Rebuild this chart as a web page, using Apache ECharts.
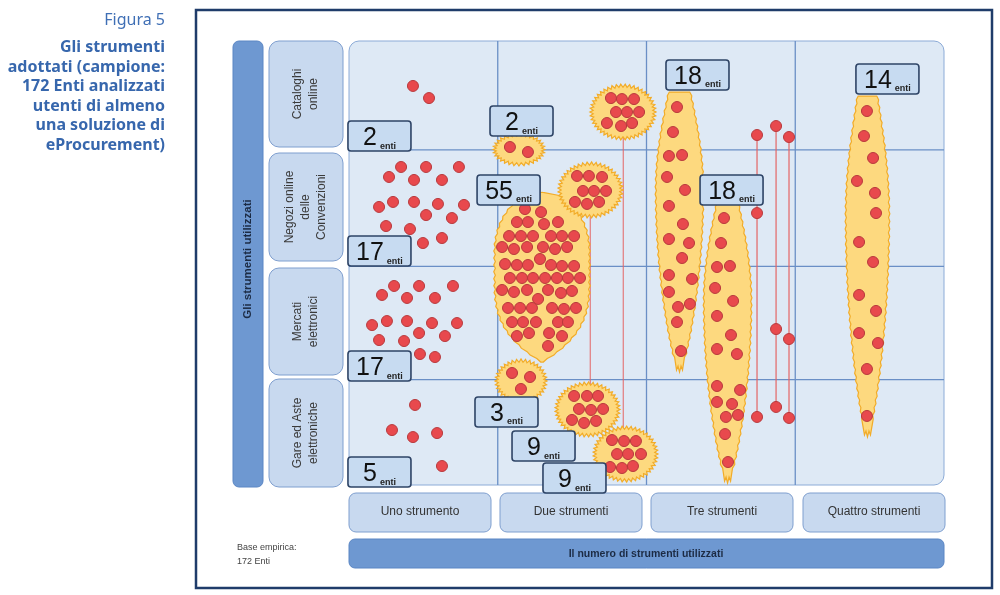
<!DOCTYPE html>
<html><head><meta charset="utf-8">
<script src="https://cdn.jsdelivr.net/npm/echarts@6/dist/echarts.min.js"></script>
<style>html,body{margin:0;padding:0;background:#fff}#c{width:1000px;height:595px}</style>
</head><body><div id="c"></div>
<script>
// ---------- categories & text ----------
const rowCategories = ['Cataloghi\nonline', 'Negozi online\ndelle\nConvenzioni', 'Mercati\nelettronici', 'Gare ed Aste\nelettroniche'];
const colCategories = ['Uno strumento', 'Due strumenti', 'Tre strumenti', 'Quattro strumenti'];
const yAxisTitle = 'Gli strumenti utilizzati';
const xAxisTitle = 'Il numero di strumenti utilizzati';
const figureNumber = 'Figura 5';
const figureTitle = 'Gli strumenti\nadottati (campione:\n172 Enti analizzati\nutenti di almeno\nuna soluzione di\neProcurement)';
const baseNote = 'Base empirica:\n172 Enti';

// ---------- cell boundaries (x: number of tools 0..4, y: tool rows 0..4) ----------
const colEdges = [1, 2, 3];
const rowEdges = [0.98, 2.03, 3.05];

// ---------- dots: one per Ente [x, y] ----------
const uno_cataloghi = [[0.430,0.405],[0.538,0.514]];
const uno_negozi = [[0.350,1.135],[0.518,1.135],[0.739,1.135],[0.269,1.225],[0.437,1.252],[0.625,1.252],[0.202,1.495],[0.296,1.450],[0.437,1.450],[0.598,1.468],[0.773,1.477],[0.518,1.568],[0.692,1.595],[0.249,1.667],[0.410,1.694],[0.497,1.820],[0.625,1.775]];
const uno_mercati = [[0.303,2.207],[0.471,2.207],[0.699,2.207],[0.222,2.288],[0.390,2.315],[0.578,2.315],[0.155,2.559],[0.255,2.523],[0.390,2.523],[0.558,2.541],[0.726,2.541],[0.471,2.631],[0.645,2.658],[0.202,2.694],[0.370,2.703],[0.477,2.820],[0.578,2.847]];
const uno_gare = [[0.444,3.279],[0.289,3.505],[0.430,3.568],[0.592,3.532],[0.625,3.829]];

const due_catNeg = [[1.082,0.955],[1.203,1.000]];
const due_catGare_top = [[1.761,0.514],[1.835,0.523],[1.916,0.523],[1.795,0.640],[1.869,0.640],[1.950,0.640],[1.734,0.739],[1.829,0.766],[1.903,0.739]];
const due_catGare_bottom = [[1.768,3.595],[1.849,3.604],[1.929,3.604],[1.802,3.721],[1.876,3.721],[1.963,3.721],[1.755,3.838],[1.835,3.847],[1.909,3.829]];
const due_negGare_top = [[1.533,1.216],[1.613,1.216],[1.701,1.225],[1.573,1.351],[1.647,1.351],[1.728,1.351],[1.519,1.450],[1.600,1.468],[1.681,1.450]];
const due_negGare_bottom = [[1.513,3.198],[1.600,3.198],[1.674,3.198],[1.546,3.315],[1.627,3.324],[1.708,3.315],[1.499,3.414],[1.580,3.441],[1.661,3.423]];
const due_mercGare = [[1.096,2.991],[1.217,3.027],[1.156,3.135]];
const due_negMerc = [
 [1.183,1.514],[1.291,1.541],
 [1.129,1.631],[1.203,1.631],[1.311,1.649],[1.405,1.631],
 [1.076,1.757],[1.156,1.757],[1.237,1.757],[1.358,1.757],[1.432,1.757],[1.513,1.757],
 [1.029,1.856],[1.109,1.874],[1.197,1.856],[1.304,1.856],[1.385,1.874],[1.466,1.856],
 [1.284,1.964],
 [1.049,2.009],[1.129,2.018],[1.203,2.018],[1.358,2.018],[1.432,2.027],[1.513,2.027],
 [1.082,2.135],[1.163,2.135],[1.237,2.135],[1.318,2.135],[1.398,2.135],[1.472,2.135],[1.553,2.135],
 [1.029,2.243],[1.109,2.261],[1.197,2.243],[1.338,2.243],[1.425,2.270],[1.499,2.252],
 [1.271,2.324],
 [1.069,2.405],[1.150,2.405],[1.230,2.405],[1.365,2.405],[1.445,2.414],[1.526,2.405],
 [1.096,2.532],[1.170,2.532],[1.257,2.532],[1.405,2.532],[1.472,2.532],
 [1.129,2.658],[1.210,2.631],[1.345,2.631],[1.432,2.658],
 [1.338,2.748]];

const tre_catNegMerc = [[2.205,0.595],[2.178,0.820],[2.151,1.036],[2.239,1.027],[2.138,1.225],[2.259,1.342],[2.151,1.486],[2.245,1.649],[2.151,1.784],[2.286,1.820],[2.239,1.955],[2.151,2.108],[2.306,2.144],[2.151,2.261],[2.212,2.396],[2.292,2.369],[2.205,2.532],[2.232,2.793]];
const tre_negMercGare = [[2.521,1.595],[2.501,1.820],[2.474,2.036],[2.561,2.027],[2.461,2.225],[2.582,2.342],[2.474,2.477],[2.568,2.649],[2.474,2.775],[2.608,2.820],[2.474,3.108],[2.629,3.144],[2.474,3.252],[2.575,3.270],[2.534,3.387],[2.615,3.369],[2.528,3.541],[2.548,3.793]];
const tre_catNegGare = [[2.743,0.847],[2.743,1.550],[2.743,3.387]];
const tre_catMercGare_a = [[2.871,0.766],[2.871,2.595],[2.871,3.297]];
const tre_catMercGare_b = [[2.958,0.865],[2.958,2.685],[2.958,3.396]];

const quattro_tutti = [[3.482,0.631],[3.462,0.856],[3.523,1.054],[3.415,1.261],[3.536,1.369],[3.543,1.550],[3.429,1.811],[3.523,1.991],[3.429,2.288],[3.543,2.432],[3.429,2.631],[3.556,2.721],[3.482,2.955],[3.482,3.378]];

// count labels [x, y (top-left anchor), number of Enti]
const countLabels = [
 [-0.007,0.721,2],[-0.007,1.757,17],[-0.007,2.793,17],[-0.007,3.748,5],
 [0.948,0.586,2],[0.861,1.207,55],[0.847,3.207,3],[1.096,3.514,9],[1.304,3.802,9],
 [2.131,0.171,18],[2.360,1.207,18],[3.408,0.207,14]];

// groupings
const allDots = [].concat(uno_cataloghi, uno_negozi, uno_mercati, uno_gare, due_catNeg, due_catGare_top, due_catGare_bottom, due_negGare_top, due_negGare_bottom, due_mercGare, due_negMerc, tre_catNegMerc, tre_negMercGare, tre_catNegGare, tre_catMercGare_a, tre_catMercGare_b, quattro_tutti);
const blobs = [
 [due_negMerc,'egg'], [due_catNeg,'sun'], [due_catGare_top,'sun'], [due_catGare_bottom,'sun'],
 [due_negGare_top,'sun'], [due_negGare_bottom,'sun'], [due_mercGare,'sun'],
 [tre_catNegMerc,'spindle'], [tre_negMercGare,'spindle'], [quattro_tutti,'spindle']];
const linkedPairs = [[due_catGare_top, due_catGare_bottom], [due_negGare_top, due_negGare_bottom]];
const chains = [tre_catNegGare, tre_catMercGare_a, tre_catMercGare_b];

// ---------- styles ----------
const FONT = "'Liberation Sans', Arial, sans-serif";
const TFONT = "'Noto Sans', 'Open Sans', sans-serif";
const YEL = '#fdd97f', YEL_E = '#f2ac28';
const RED = '#e8494d', RED_E = '#b8393c';
const LINE_BLUE = '#6a8fc6';
const G = {left: 349, top: 41, width: 595, height: 444};

function mean(arr, i) { return arr.reduce((s, p) => s + p[i], 0) / arr.length; }

function blobItem(params, api) {
  const b = blobs[params.dataIndex];
  const px = b[0].map(p => api.coord(p));
  const xs = px.map(p => p[0]), ys = px.map(p => p[1]);
  const x0 = Math.min(...xs), x1 = Math.max(...xs), y0 = Math.min(...ys), y1 = Math.max(...ys);
  const cx = (x0 + x1) / 2, cy = (y0 + y1) / 2;
  let poly = [];
  if (b[1] === 'sun') {
    const rx = (x1 - x0) / 2 + 17, ry = (y1 - y0) / 2 + 14;
    const n = Math.round(Math.PI * (rx + ry) / 4.2);
    for (let k = 0; k < 2 * n; k++) {
      const a = k * Math.PI / n, d = k % 2 ? 3.2 : 0;
      poly.push([cx + (rx - d) * Math.cos(a), cy + (ry - d) * Math.sin(a)]);
    }
  } else if (b[1] === 'egg') {
    const W = (x1 - x0) / 2 + 8, top = y0 - 17, bot = y1 + 16, H = bot - top;
    const steps = Math.round(H / 3.5), right = [], left = [];
    for (let i = 0; i <= steps; i++) {
      const s = i / steps;
      let w = s < 0.35 ? W * Math.sqrt(Math.max(0, 1 - Math.pow((0.35 - s) / 0.35, 2)))
            : (s < 0.5 ? W : W * (1 - Math.pow((s - 0.5) / 0.5, 3)));
      const j = (i % 2 ? 1.3 : -0.3);
      const y = top + s * H;
      right.push([cx + 1 + w + j, y]); left.push([cx + 1 - w - j, y]);
    }
    poly = right.concat(left.reverse());
  } else {
    const W = (x1 - x0) / 2 + 11, top = y0 - 15, bot = y1 + 20, H = bot - top;
    const steps = Math.round(H / 4), right = [], left = [];
    for (let i = 0; i <= steps; i++) {
      const s = i / steps * 0.95;
      const w = s < 0.35 ? W * (0.45 + 0.55 * Math.sin(Math.PI / 2 * s / 0.35))
              : W * Math.pow(Math.max(0, Math.cos(Math.PI / 2 * (s - 0.35) / 0.65)), 0.7);
      const j = (i % 2 ? 0.9 : -0.4);
      const y = top + s * H;
      right.push([cx + w + j, y]); left.push([cx - w - j, y]);
    }
    const tip = [[cx + 3, bot - 1], [cx + 1.5, bot - 5], [cx, bot + 1], [cx - 1.5, bot - 5], [cx - 3, bot - 1]];
    poly = right.concat(tip, left.reverse());
  }
  return {type: 'polygon', shape: {points: poly}, style: {fill: YEL, stroke: YEL_E, lineWidth: 1.2}};
}

function gridItem(params, api) {
  const children = [];
  colEdges.forEach(x => {
    const a = api.coord([x, 0]), b = api.coord([x, 4]);
    children.push({type: 'line', shape: {x1: a[0], y1: a[1], x2: b[0], y2: b[1]}, style: {stroke: LINE_BLUE, lineWidth: 1.3}});
  });
  rowEdges.forEach(y => {
    const a = api.coord([0, y]), b = api.coord([4, y]);
    children.push({type: 'line', shape: {x1: a[0], y1: a[1], x2: b[0], y2: b[1]}, style: {stroke: LINE_BLUE, lineWidth: 1.3}});
  });
  return {type: 'group', children};
}

function connectorItem(params, api) {
  const children = [];
  linkedPairs.forEach(pr => {
    const a = api.coord([mean(pr[0], 0), mean(pr[0], 1)]);
    const b = api.coord([mean(pr[1], 0), mean(pr[1], 1)]);
    children.push({type: 'line', shape: {x1: a[0], y1: a[1], x2: a[0], y2: b[1]}, style: {stroke: '#e46565', lineWidth: 1}});
  });
  chains.forEach(ch => {
    const a = api.coord(ch[0]), b = api.coord(ch[ch.length - 1]);
    children.push({type: 'line', shape: {x1: a[0], y1: a[1], x2: b[0], y2: b[1]}, style: {stroke: '#e46565', lineWidth: 1.2}});
  });
  return {type: 'group', children};
}

function labelItem(params, api) {
  const p = api.coord([api.value(0), api.value(1)]);
  const n = api.value(2);
  const w = 63, h = 30;
  return {type: 'group', children: [
    {type: 'rect', shape: {x: p[0], y: p[1], width: w, height: h, r: 3}, style: {fill: '#c7dbf1', stroke: '#2e4466', lineWidth: 1.6}},
    {type: 'text', style: {x: p[0] + w / 2, y: p[1] + h / 2 + 1, text: '{n|' + n + '}{u|enti}',
      align: 'center', verticalAlign: 'middle', textAlign: 'center', textVerticalAlign: 'middle',
      rich: {n: {fontSize: 25, fontFamily: FONT, fill: '#111', color: '#111', verticalAlign: 'bottom', lineHeight: 27, padding: [0, 3, 0, 0]},
             u: {fontSize: 9, fontWeight: 'bold', fontFamily: FONT, fill: '#222', color: '#222', verticalAlign: 'bottom', lineHeight: 27, padding: [0, 0, 0, 0]}}}}
  ]};
}

// ---------- decoration graphics (layout) ----------
const graphics = [
  {type: 'rect', z: 0, shape: {x: 196, y: 10, width: 796, height: 578}, style: {fill: '#fff', stroke: '#1f3c6a', lineWidth: 2.5}},
  {type: 'rect', z: 1, shape: {x: G.left, y: G.top, width: G.width, height: G.height, r: 10}, style: {fill: '#dee9f5', stroke: '#8cabd7', lineWidth: 1}},
  {type: 'rect', z: 1, shape: {x: 233, y: 41, width: 30, height: 446, r: 6}, style: {fill: '#6e98d1', stroke: '#5a86c4', lineWidth: 1}},
  {type: 'text', z: 1, x: 248, y: 259, rotation: Math.PI / 2, style: {text: yAxisTitle, font: 'bold 11.5px ' + FONT, fill: '#1c2b44', align: 'center', verticalAlign: 'middle', textAlign: 'center', textVerticalAlign: 'middle'}},
  {type: 'rect', z: 1, shape: {x: 349, y: 539, width: 595, height: 29, r: 6}, style: {fill: '#6e98d1', stroke: '#5a86c4', lineWidth: 1}},
  {type: 'text', z: 1, x: 646, y: 554, style: {text: xAxisTitle, font: 'bold 10.5px ' + FONT, fill: '#1c2b44', align: 'center', verticalAlign: 'middle', textAlign: 'center', textVerticalAlign: 'middle'}},
  {type: 'text', z: 1, x: 237, y: 541, style: {text: baseNote, font: '9px ' + FONT, fill: '#444', lineHeight: 14, align: 'left', verticalAlign: 'top', textAlign: 'left', textVerticalAlign: 'top'}},
  {type: 'text', z: 1, x: 165, y: 20, style: {text: figureNumber, font: '16px ' + TFONT, fill: '#3f6fb5', align: 'right', verticalAlign: 'middle', textAlign: 'right', textVerticalAlign: 'middle'}},
  {type: 'text', z: 1, x: 165, y: 38, style: {text: figureTitle, font: 'bold 16px ' + TFONT, fill: '#3767ad', lineHeight: 19.5, align: 'right', verticalAlign: 'top', textAlign: 'right', textVerticalAlign: 'top'}}
];
const rowBoxTop = [41, 153, 268, 379], rowBoxBottom = [147, 261, 375, 487];
rowCategories.forEach((t, i) => {
  graphics.push({type: 'rect', z: 1, shape: {x: 269, y: rowBoxTop[i], width: 74, height: rowBoxBottom[i] - rowBoxTop[i], r: 10}, style: {fill: '#c8d9ef', stroke: '#7f9fcf', lineWidth: 1}});
  graphics.push({type: 'text', z: 1, x: 306, y: (rowBoxTop[i] + rowBoxBottom[i]) / 2, rotation: Math.PI / 2, style: {text: t, font: '12px ' + FONT, fill: '#3a3a3a', lineHeight: 16, align: 'center', verticalAlign: 'middle', textAlign: 'center', textVerticalAlign: 'middle'}});
});
const colBoxLeft = [349, 500, 651, 803];
colCategories.forEach((t, i) => {
  graphics.push({type: 'rect', z: 1, shape: {x: colBoxLeft[i], y: 493, width: 142, height: 39, r: 7}, style: {fill: '#c8d9ef', stroke: '#7f9fcf', lineWidth: 1}});
  graphics.push({type: 'text', z: 1, x: colBoxLeft[i] + 71, y: 512, style: {text: t, font: '12px ' + FONT, fill: '#333', align: 'center', verticalAlign: 'middle', textAlign: 'center', textVerticalAlign: 'middle'}});
});

const chart = echarts.init(document.getElementById('c'), null, {renderer: 'canvas'});
chart.setOption({
  animation: false,
  backgroundColor: '#fff',
  graphic: {elements: graphics},
  grid: G,
  xAxis: {type: 'value', min: 0, max: 4, show: false},
  yAxis: {type: 'value', min: 0, max: 4, inverse: true, show: false},
  series: [
    {type: 'custom', z: 3, renderItem: gridItem, data: [[0, 0]], silent: true},
    {type: 'custom', z: 4, renderItem: connectorItem, data: [[0, 0]], silent: true},
    {type: 'custom', z: 5, renderItem: blobItem, data: blobs.map((b, i) => [mean(b[0], 0), mean(b[0], 1)]), silent: true},
    {type: 'scatter', z: 6, symbol: 'circle', symbolSize: 11, data: allDots, itemStyle: {color: RED, borderColor: RED_E, borderWidth: 1, opacity: 1}, silent: true},
    {type: 'custom', z: 7, renderItem: labelItem, data: countLabels, silent: true}
  ]
});
</script></body></html>
